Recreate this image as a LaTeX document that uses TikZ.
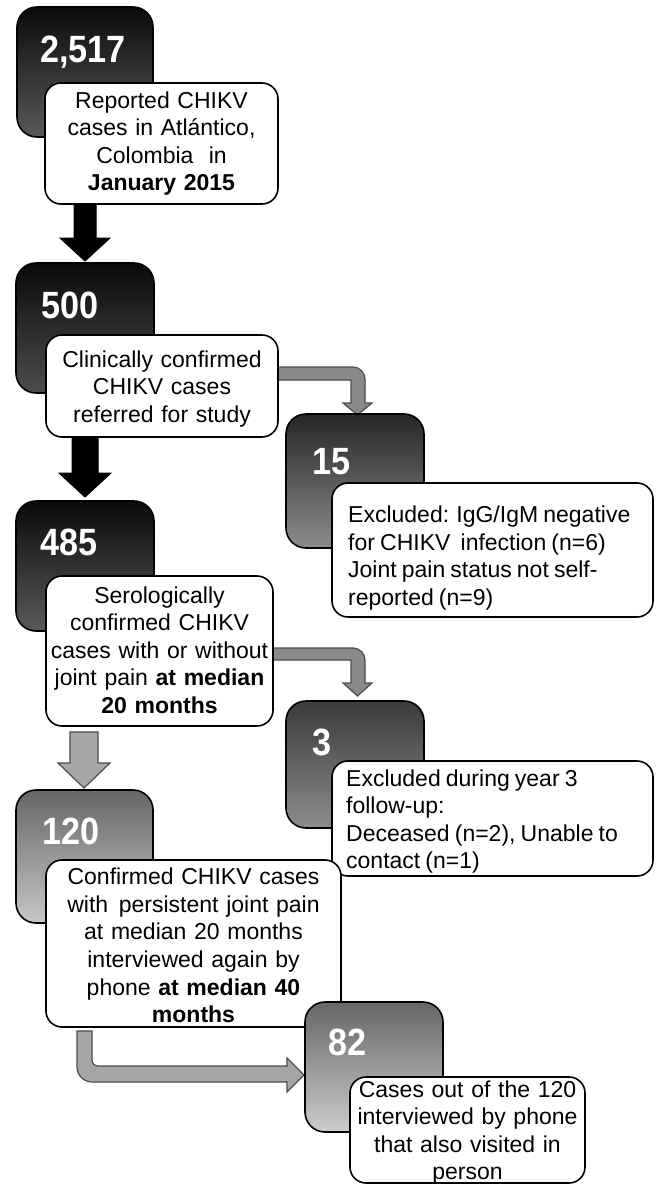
\documentclass[tikz,border=0pt]{standalone}
\usepackage{fontspec}
\setmainfont{Liberation Sans}[WordSpace=0.8]
\newfontfamily\numfont{Liberation Sans}[FakeStretch=0.9]
\usetikzlibrary{calc}
\pgfdeclarelayer{back}
\pgfdeclarelayer{bg}
\pgfsetlayers{back,bg,main}
\definecolor{midarrow}{HTML}{8A8A8A}
\definecolor{lightarrow}{HTML}{A6A6A6}
\definecolor{arrowedge}{HTML}{4D4D4D}
\tikzset{
  darkbox/.style={draw=black, line width=1.6pt, rounded corners=20pt, outer sep=0pt, inner sep=0pt},
  wbox/.style={draw=black, fill=white, line width=1.6pt, rounded corners=16pt, outer sep=0pt, inner sep=0pt},
  wtext/.style={inner xsep=0pt, inner ysep=0pt, align=center, font=\fontsize{23}{27.6}\selectfont},
  wtextl/.style={wtext, align=flush left},
  num/.style={text=white, font=\fontsize{38}{44}\numfont\bfseries, inner sep=0pt, anchor=base west},
  blackarrow/.style={fill=black, draw=black, line width=1pt, line join=miter},
  midblock/.style={fill=midarrow, draw=arrowedge, line width=1.2pt, line join=miter},
  lightblock/.style={fill=lightarrow, draw=arrowedge, line width=1.2pt, line join=miter}
}
\begin{document}
\begin{tikzpicture}[x=1pt,y=-1pt]
\begin{pgfonlayer}{back}
\fill[white] (0,0) rectangle (662,1185);
\end{pgfonlayer}
\useasboundingbox (0,0) rectangle (662,1185);

% 2,517
\node[darkbox, minimum width=136pt, minimum height=130pt, top color=black!96, bottom color=black!65] (d1) at (85,72) {};
\node[num] (n1) at (40,63) {2,517};
\node[wbox, minimum width=233pt, minimum height=121pt] (w1) at (161.5,143.5) {};
\node[wtext, text width=227pt] (t1) at (161.5,143.5)
  {Reported CHIKV\\cases in Atlántico,\\Colombia\ \ in\\\textbf{January 2015}};

% 500
\node[darkbox, minimum width=138pt, minimum height=130pt, top color=black!96, bottom color=black!70] (d2) at (85,328) {};
\node[num] (n2) at (41,318) {500};
\node[wbox, minimum width=232pt, minimum height=102pt] (w2) at (162,386) {};
\node[wtext, text width=226pt] (t2) at (162,389)
  {Clinically confirmed\\CHIKV cases\\referred for study};

% 15
\node[darkbox, minimum width=138pt, minimum height=134pt, top color=black!85, bottom color=black!45] (d4) at (355,481) {};
\node[num] (n4) at (312,474) {15};
\node[wbox, minimum width=321pt, minimum height=134pt] (w4) at (492.5,550) {};
\node[wtextl, text width=295pt, anchor=west] (t4) at (348,558)
  {Excluded: IgG/IgM negative\\for CHIKV\ \ infection (n=6)\\Joint pain status not self-\\reported (n=9)};

% 485
\node[darkbox, minimum width=138pt, minimum height=130pt, top color=black!96, bottom color=black!65] (d3) at (85,566) {};
\node[num] (n3) at (40,555) {485};
\node[wbox, minimum width=227pt, minimum height=150pt] (w3) at (159.5,651) {};
\node[wtext, text width=223pt] (t3) at (159.5,650)
  {Serologically\\confirmed CHIKV\\cases with or without\\joint pain \textbf{at median}\\\textbf{20 months}};

% 3
\node[darkbox, minimum width=138pt, minimum height=127pt, top color=black!77, bottom color=black!45] (d5) at (355,764.5) {};
\node[num] (n5) at (312,755) {3};
\node[wbox, minimum width=321pt, minimum height=115pt] (w5) at (492.5,818.5) {};
\node[wtextl, text width=295pt, anchor=west] (t5) at (346,821.5)
  {Excluded during year 3\\follow-up:\\Deceased (n=2), Unable to\\contact (n=1)};

% 120
\node[darkbox, minimum width=137pt, minimum height=133pt, top color=black!60, bottom color=black!22] (d6) at (84.5,856.5) {};
\node[num] (n6) at (42,844) {120};
\node[wbox, minimum width=295pt, minimum height=167pt] (w6) at (193.5,943.5) {};
\node[wtext, text width=291pt] (t6) at (193.5,945.5)
  {Confirmed CHIKV cases\\with\hspace{3pt} persistent joint pain\\at median 20 months\\interviewed again by\\phone \textbf{at median 40}\\\textbf{months}};

% 82
\node[darkbox, minimum width=138pt, minimum height=130pt, top color=black!60, bottom color=black!20] (d7) at (374,1067) {};
\node[num] (n7) at (328,1055) {82};
\node[wbox, minimum width=235pt, minimum height=106pt] (w7) at (467.5,1130) {};
\node[wtext, text width=231pt] (t7) at (467.5,1132.5)
  {Cases out of the 120\\interviewed by phone\\that also visited in\\person};

% arrow anchor points
\coordinate (a1s) at ($(w1.south west)+(29,-4)$);
\coordinate (a2s) at ($(w2.south west)+(26,-4)$);
\coordinate (a3s) at ($(w3.south west)+(24,6)$);
\coordinate (b1s) at ($(w2.east)+(-8,-19)$);
\coordinate (b2s) at ($(w3.east)+(-8,-3)$);
\coordinate (b3s) at ($(w6.south west)+(31,4)$);

\begin{pgfonlayer}{bg}
\draw[blackarrow] (a1s) -- ++(22,0) -- ++(0,38) -- ++(14,0) -- ++(-25,23) -- ++(-25,-23) -- ++(14,0) -- cycle;
\draw[blackarrow] (a2s) -- ++(26,0) -- ++(0,40) -- ++(13,0) -- ++(-26,24) -- ++(-26,-24) -- ++(13,0) -- cycle;
\draw[lightblock] (a3s) -- ++(28,0) -- ++(0,31) -- ++(12,0) -- ++(-26,25) -- ++(-26,-25) -- ++(12,0) -- cycle;
\draw[midblock] (b1s) -- ++(83,0) arc[start angle=-90,end angle=0,radius=12] -- ++(0,24) -- ++(7,0)
  -- ++(-14.5,12) -- ++(-14.5,-12) -- ++(8,0) -- ++(0,-23) -- ++(-81,0) -- cycle;
\draw[midblock] (b2s) -- ++(88,0) arc[start angle=-90,end angle=0,radius=12] -- ++(0,23) -- ++(7,0)
  -- ++(-14.5,13) -- ++(-14.5,-13) -- ++(8,0) -- ++(0,-23) -- ++(-86,0) -- cycle;
\draw[lightblock] (b3s) -- ++(15,0) -- ++(0,29) arc[start angle=180,end angle=90,radius=6] -- ++(189,0)
  -- ++(0,-8) -- ++(17,17) -- ++(-17,17) -- ++(0,-10) -- ++(-195,0) arc[start angle=90,end angle=180,radius=15] -- cycle;
\end{pgfonlayer}
\end{tikzpicture}
\end{document}
